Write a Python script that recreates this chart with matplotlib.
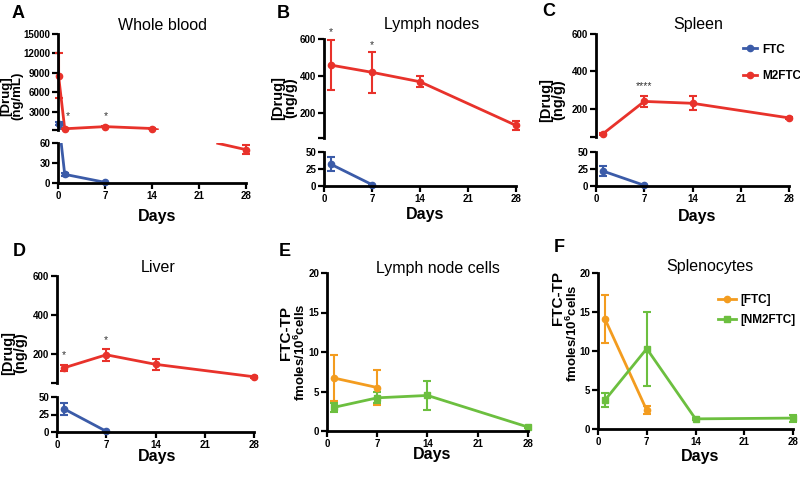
import numpy as np
import matplotlib.pyplot as plt
from matplotlib.lines import Line2D

plt.rcParams['font.family'] = ['Liberation Sans', 'DejaVu Sans']
plt.rcParams['font.weight'] = 'bold'
plt.rcParams['mathtext.fontset'] = 'custom'
plt.rcParams['mathtext.rm'] = 'Liberation Sans:bold'
plt.rcParams['mathtext.default'] = 'rm'

# colours
RED = '#e8322b'
BLUE = '#3b5ba8'
ORANGE = '#f39c1f'
GREEN = '#6cbf3f'
LW = 2.0

xticks = [0, 7, 14, 21, 28]

# A - whole blood (ng/mL)
wb_m2_days = [0.08, 1, 7, 14, 28]
wb_m2 = [8600, 420, 750, 460, 50]
wb_m2_err = [3500, 60, 90, 70, 7]
wb_ftc_days = [0.15, 1, 7]
wb_ftc = [1200, 13, 1]
wb_ftc_err = [250, 2, 0.5]
wb_star_days = [1.5, 7.1]
wb_star_vals = [2300, 2300]

# B - lymph nodes (ng/g)
ln_m2_days = [1, 7, 14, 28]
ln_m2 = [459, 420, 369, 133]
ln_m2_err = [133, 110, 29, 25]
ln_ftc_days = [1, 7]
ln_ftc = [32, 2]
ln_ftc_err = [10, 0]
ln_star_days = [1, 7]
ln_star_vals = [635, 565]

# C - spleen (ng/g)
sp_m2_days = [1, 7, 14, 28]
sp_m2 = [67, 240, 230, 152]
sp_m2_err = [6, 30, 38, 5]
sp_ftc_days = [1, 7]
sp_ftc = [22, 1]
sp_ftc_err = [8, 0]
sp_star_days = [7]
sp_star_vals = [320]

# D - liver (ng/g)
li_m2_days = [1, 7, 14, 28]
li_m2 = [128, 195, 146, 82]
li_m2_err = [15, 30, 28, 5]
li_ftc_days = [1, 7]
li_ftc = [33, 1]
li_ftc_err = [9, 0]
li_star_days = [1, 7]
li_star_vals = [195, 272]

# E - lymph node cells (fmoles/10^6 cells)
lnc_ftc_days = [1, 7]
lnc_ftc = [6.7, 5.5]
lnc_ftc_err = [2.9, 2.2]
lnc_nm_days = [1, 7, 14, 28]
lnc_nm = [3.0, 4.2, 4.5, 0.5]
lnc_nm_err = [0.6, 0.7, 1.85, 0.1]

# F - splenocytes
spc_ftc_days = [1, 7]
spc_ftc = [14.1, 2.4]
spc_ftc_err = [3.1, 0.5]
spc_nm_days = [1, 7, 14, 28]
spc_nm = [3.7, 10.3, 1.3, 1.4]
spc_nm_err = [0.9, 4.75, 0.1, 0.45]

W, H = 800, 479
fig = plt.figure(figsize=(8, 4.79), dpi=100)


def box(l, t, r, b):
    return [l / W, 1 - b / H, (r - l) / W, (b - t) / H]


def pt(x, y):
    return x / W, 1 - y / H


def style(ax, bottom=True):
    ax.spines['top'].set_visible(False)
    ax.spines['right'].set_visible(False)
    ax.spines['left'].set_linewidth(2)
    ax.spines['bottom'].set_linewidth(2)
    ax.patch.set_alpha(0)
    ax.tick_params(width=1.6, length=4, labelsize=7, pad=1.5)
    ax.set_xlim(0, 28)
    ax.set_xticks(xticks)
    if not bottom:
        ax.spines['bottom'].set_visible(False)
        ax.tick_params(axis='x', bottom=False, labelbottom=False)


def series(ax, days, vals, errs, color, marker='o'):
    ax.errorbar(days, vals, yerr=errs, color=color, lw=LW, marker=marker, ms=4.5,
                capsize=3, capthick=1.5, elinewidth=1.5, clip_on=False)


def stars(ax, days, vals, s='*'):
    for d, v in zip(days, vals):
        ax.text(d, v, s, ha='center', va='center', fontsize=7.5, color='#333333',
                fontweight='normal', clip_on=False)


def upper_ticks(ax, lo, ticks):
    ax.set_yticks([lo] + ticks)
    ax.set_yticklabels([''] + [str(t) for t in ticks])


def broken_line(ax_hi, ax_lo, days, vals, split, color):
    # straight screen-space segment across the axis break, cut at both edges
    y_hi0 = ax_hi.bbox.y0
    y_lo1 = ax_lo.bbox.y1
    for i in range(len(days) - 1):
        a = (days[i], vals[i])
        b = (days[i + 1], vals[i + 1])
        a_up, b_up = a[1] > split, b[1] > split
        if a_up == b_up:
            ax = ax_hi if a_up else ax_lo
            ax.plot([a[0], b[0]], [a[1], b[1]], color=color, lw=LW,
                    solid_capstyle='round')
            continue
        top, bot = (a, b) if a_up else (b, a)
        p = ax_hi.transData.transform(top)
        q = ax_lo.transData.transform(bot)

        def x_at(y):
            return p[0] + (q[0] - p[0]) * (p[1] - y) / (p[1] - q[1])

        xh = ax_hi.transData.inverted().transform((x_at(y_hi0), y_hi0))
        xl = ax_lo.transData.inverted().transform((x_at(y_lo1), y_lo1))
        ax_hi.plot([top[0], xh[0]], [top[1], xh[1]], color=color, lw=LW,
                   solid_capstyle='butt')
        ax_lo.plot([xl[0], bot[0]], [xl[1], bot[1]], color=color, lw=LW,
                   solid_capstyle='butt')


def split_points(ax_hi, ax_lo, days, vals, errs, split, color):
    hi = [i for i, v in enumerate(vals) if v > split]
    lo = [i for i, v in enumerate(vals) if v <= split]
    for ax, idx in ((ax_hi, hi), (ax_lo, lo)):
        ax.errorbar([days[i] for i in idx], [vals[i] for i in idx],
                    yerr=[errs[i] for i in idx], color=color, ls='none', marker='o',
                    ms=4.5, capsize=3, capthick=1.5, elinewidth=1.5, clip_on=False)


def days_label(x, y):
    fig.text(*pt(x, y), 'Days', ha='center', va='center', fontsize=11.5)


def panel_text(letter, lx, ly, title, tx, ty):
    fig.text(*pt(lx, ly), letter, ha='center', va='center', fontsize=13)
    fig.text(*pt(tx, ty), title, ha='center', va='center', fontsize=11.5,
             fontweight='normal')


def ylab(x, y, s, size=10.5):
    fig.text(*pt(x, y), s, rotation=90, ha='center', va='center', fontsize=size,
             linespacing=0.85)


# ---------------- A ----------------
a_hi = fig.add_axes(box(58, 34, 246, 130))
a_lo = fig.add_axes(box(58, 143, 246, 183))
style(a_hi, bottom=False)
style(a_lo)
a_hi.set_ylim(230, 15000)
upper_ticks(a_hi, 230, [3000, 6000, 9000, 12000, 15000])
a_lo.set_ylim(0, 60)
a_lo.set_yticks([0, 30, 60])
broken_line(a_hi, a_lo, wb_m2_days, wb_m2, 60, RED)
broken_line(a_hi, a_lo, wb_ftc_days, wb_ftc, 60, BLUE)
split_points(a_hi, a_lo, wb_m2_days, wb_m2, wb_m2_err, 60, RED)
split_points(a_hi, a_lo, wb_ftc_days, wb_ftc, wb_ftc_err, 60, BLUE)
stars(a_hi, wb_star_days, wb_star_vals)
panel_text('A', 18, 13, 'Whole blood', 163, 25)
ylab(12, 96, '[Drug]\n(ng/mL)', 9.5)
days_label(157, 217)

# ---------------- B, C, D ----------------
organ_panels = [
    ((324, 39, 516, 138), (152, 186), 65, ln_m2_days, ln_m2, ln_m2_err,
     ln_ftc_days, ln_ftc, ln_ftc_err, ln_star_days, ln_star_vals, '*'),
    ((596, 34, 789, 137), (152, 186), 50, sp_m2_days, sp_m2, sp_m2_err,
     sp_ftc_days, sp_ftc, sp_ftc_err, sp_star_days, sp_star_vals, '****'),
    ((57, 276, 254, 383), (397, 432), 50, li_m2_days, li_m2, li_m2_err,
     li_ftc_days, li_ftc, li_ftc_err, li_star_days, li_star_vals, '*'),
]
organ_axes = []
for (l, t, r, b), (lt, lb), lo, md, mv, me, fd, fv, fe, sd, sv, s in organ_panels:
    hi_ax = fig.add_axes(box(l, t, r, b))
    lo_ax = fig.add_axes(box(l, lt, r, lb))
    style(hi_ax, bottom=False)
    style(lo_ax)
    hi_ax.set_ylim(lo, 600)
    upper_ticks(hi_ax, lo, [200, 400, 600])
    lo_ax.set_ylim(0, 50)
    lo_ax.set_yticks([0, 25, 50])
    series(hi_ax, md, mv, me, RED)
    series(lo_ax, fd, fv, fe, BLUE)
    stars(hi_ax, sd, sv, s)
    organ_axes.append(hi_ax)

panel_text('B', 283, 13, 'Lymph nodes', 432, 25)
ylab(284, 98, '[Drug]\n(ng/g)')
days_label(425, 215)

panel_text('C', 549, 12, 'Spleen', 698, 25)
ylab(552, 100, '[Drug]\n(ng/g)')
days_label(697, 217)
handles = [Line2D([], [], color=BLUE, lw=LW, marker='o', ms=4.5),
           Line2D([], [], color=RED, lw=LW, marker='o', ms=4.5)]
organ_axes[1].legend(handles, ['FTC', 'M2FTC'], loc='center left',
                     bbox_to_anchor=pt(737, 63), bbox_transform=fig.transFigure,
                     frameon=False, fontsize=8.5, handlelength=1.2,
                     handletextpad=0.4, labelspacing=1.25, borderpad=0)

panel_text('D', 19, 252, 'Liver', 158, 268)
ylab(14, 353, '[Drug]\n(ng/g)')
days_label(157, 457)

# ---------------- E, F ----------------
cell_panels = [
    ((327, 273, 528, 431), lnc_ftc_days, lnc_ftc, lnc_ftc_err,
     lnc_nm_days, lnc_nm, lnc_nm_err),
    ((598, 273, 793, 429), spc_ftc_days, spc_ftc, spc_ftc_err,
     spc_nm_days, spc_nm, spc_nm_err),
]
cell_axes = []
for (l, t, r, b), od, ov, oe, gd, gv, ge in cell_panels:
    ax = fig.add_axes(box(l, t, r, b))
    style(ax)
    ax.set_ylim(0, 20)
    ax.set_yticks([0, 5, 10, 15, 20])
    series(ax, od, ov, oe, ORANGE)
    series(ax, gd, gv, ge, GREEN, marker='s')
    cell_axes.append(ax)

panel_text('E', 285, 252, 'Lymph node cells', 438, 268)
ylab(286, 333, 'FTC-TP', 11)
ylab(300, 352, r'fmoles/10$^{6}$cells', 9.5)
days_label(432, 455)

panel_text('F', 559, 247, 'Splenocytes', 710, 267)
ylab(558, 298, 'FTC-TP', 11)
ylab(572, 333, r'fmoles/10$^{6}$cells', 9.5)
days_label(700, 456)
handles = [Line2D([], [], color=ORANGE, lw=LW, marker='o', ms=4.5),
           Line2D([], [], color=GREEN, lw=LW, marker='s', ms=4.5)]
cell_axes[1].legend(handles, ['[FTC]', '[NM2FTC]'], loc='center left',
                    bbox_to_anchor=pt(712, 310), bbox_transform=fig.transFigure,
                    frameon=False, fontsize=8.5, handlelength=1.5,
                    handletextpad=0.4, labelspacing=0.7, borderpad=0)

fig.savefig('out.png', dpi=100)
